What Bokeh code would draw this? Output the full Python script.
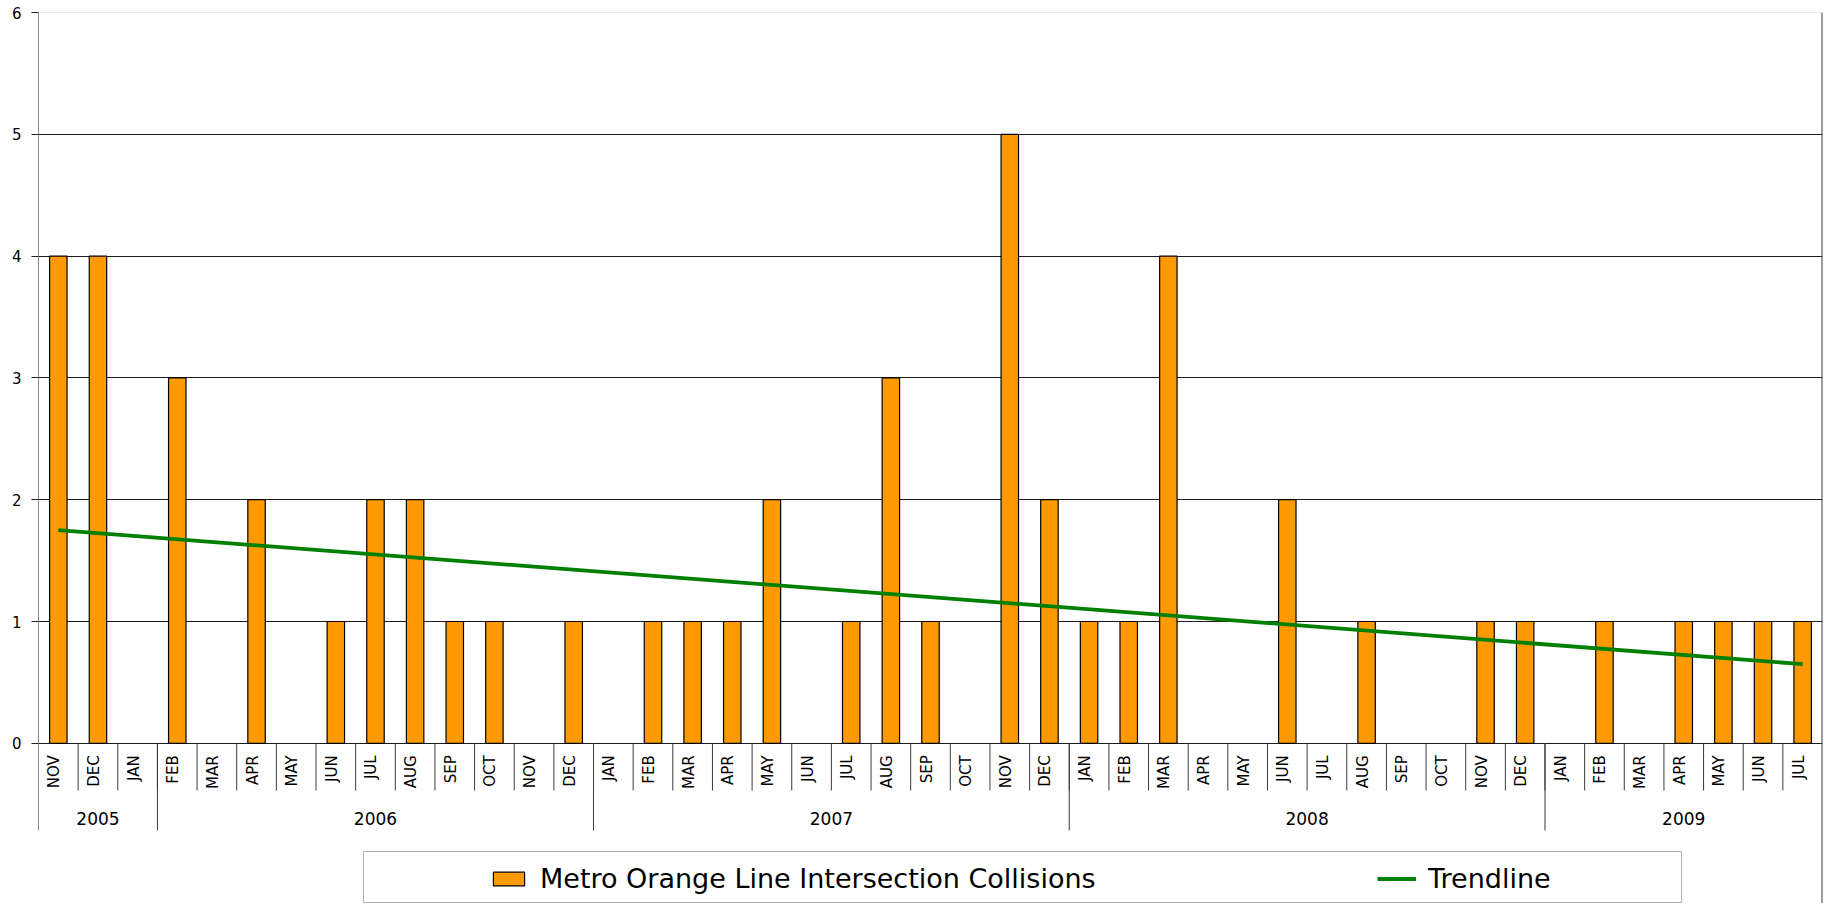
import math
from bokeh.plotting import figure
from bokeh.models import (ColumnDataSource, FixedTicker, Span, Legend, LegendItem,
                          BoxAnnotation, Range1d)
from bokeh.core.properties import value
from bokeh.embed import file_html
from bokeh.resources import INLINE

# ---------------- data ----------------
months = ["NOV", "DEC", "JAN", "FEB", "MAR", "APR", "MAY", "JUN", "JUL", "AUG", "SEP", "OCT",
          "NOV", "DEC",
          "JAN", "FEB", "MAR", "APR", "MAY", "JUN", "JUL", "AUG", "SEP", "OCT", "NOV", "DEC",
          "JAN", "FEB", "MAR", "APR", "MAY", "JUN", "JUL", "AUG", "SEP", "OCT", "NOV", "DEC",
          "JAN", "FEB", "MAR", "APR", "MAY", "JUN", "JUL"]
years = ["2005", "2006", "2007", "2008", "2009"]
year_counts = [3, 11, 12, 12, 7]          # number of month categories under each year label
collisions = [4, 4, 0, 3, 0, 2, 0, 1, 2, 2, 1, 1, 0, 1,
              0, 1, 1, 1, 2, 0, 1, 3, 1, 0, 5, 2,
              1, 1, 4, 0, 0, 2, 0, 1, 0, 0, 1, 1,
              0, 1, 0, 1, 1, 1, 1]
trend_values = [1.75, 0.65]               # trendline at first and last month
y_ticks = [0, 1, 2, 3, 4, 5, 6]

SERIES_NAME = "Metro Orange Line Intersection Collisions"
TREND_NAME = "Trendline"

# ---------------- geometry (pixels) ----------------
FONT = "DejaVu Sans"
N = len(months)
FIG_W, FIG_H = 1823, 903
BORDER_L, BORDER_R, BORDER_T, BORDER_B = 38, 1, 12, 0
FRAME_H = FIG_H - BORDER_T - BORDER_B
UNIT_PX = 121.8                           # pixels per y unit
Y_TOP = 6
Y_BOTTOM = Y_TOP - FRAME_H / UNIT_PX
FRAME_W = FIG_W - BORDER_L - BORDER_R
CAT_PX = FRAME_W / N
ZERO_PX = BORDER_T + Y_TOP * UNIT_PX      # figure pixel row of the zero line


def py(px):
    """Figure pixel row -> y value."""
    return (ZERO_PX - px) / UNIT_PX


def px_x(px):
    """Figure pixel column -> x value."""
    return (px - BORDER_L) / CAT_PX


p = figure(width=FIG_W, height=FIG_H, output_backend="svg", toolbar_location=None,
           x_range=Range1d(0, N), y_range=Range1d(Y_BOTTOM, Y_TOP),
           x_axis_type=None, min_border_left=BORDER_L, min_border_right=BORDER_R,
           min_border_top=BORDER_T, min_border_bottom=BORDER_B)
p.outline_line_color = None
p.background_fill_color = "white"
p.border_fill_color = "white"
p.xgrid.visible = False

# y axis
yax = p.yaxis[0]
yax.ticker = FixedTicker(ticks=y_ticks)
yax.bounds = (py(830), Y_TOP)
yax.axis_line_color = "#8a8a8a"
yax.axis_line_width = 1
yax.major_tick_out = 7
yax.major_tick_in = 0
yax.major_tick_line_color = "#222222"
yax.minor_tick_line_color = None
yax.major_label_text_font = FONT
yax.major_label_text_font_size = "15px"
yax.major_label_text_color = "black"
yax.major_label_standoff = 10

p.ygrid.ticker = FixedTicker(ticks=y_ticks[:-1])
p.ygrid.grid_line_color = "#1a1a1a"
p.ygrid.grid_line_width = 1
p.add_layout(Span(location=Y_TOP, dimension="width", line_color="#d4d4d4", line_width=1))

# bars
xs = [i + 0.5 for i in range(N)]
nz = [i for i in range(N) if collisions[i] > 0]
bar_src = ColumnDataSource(dict(x=[xs[i] for i in nz], top=[collisions[i] for i in nz]))
bars = p.vbar(x="x", top="top", bottom=0, width=0.44, source=bar_src,
              fill_color="#FF9900", line_color="black", line_width=1.2)

# trendline
trend = p.line(x=[xs[0], xs[-1]], y=trend_values, line_color="#008000", line_width=3.8)

# category separators
sep_month_bottom = py(790)
sep_year_bottom = py(830)
p.segment(x0=list(range(1, N)), y0=[0] * (N - 1), x1=list(range(1, N)),
          y1=[sep_month_bottom] * (N - 1), line_color="#3a3a3a", line_width=1)
bounds = []
acc = 0
for c in year_counts:
    acc += c
    bounds.append(acc)
ybnd = bounds[:-1]
p.segment(x0=ybnd, y0=[0] * len(ybnd), x1=ybnd, y1=[sep_year_bottom] * len(ybnd),
          line_color="#3a3a3a", line_width=1)
p.add_layout(Span(location=N, dimension="height", line_color="#3a3a3a", line_width=2))

# month labels
p.text(x=xs, y=[0] * N, text=months, angle=math.pi / 2, text_align="right",
       text_baseline="middle", x_offset=-4, y_offset=12,
       text_font=value(FONT), text_font_size="15px", text_color="black")

# year labels
starts = [0] + bounds[:-1]
centers = [(s + e) / 2 for s, e in zip(starts, bounds)]
p.text(x=centers, y=[0] * len(years), text=years, text_align="center",
       text_baseline="middle", y_offset=75,
       text_font=value(FONT), text_font_size="17px", text_color="black")

# legend frame
p.add_layout(BoxAnnotation(left=px_x(363), right=px_x(1681),
                           top=py(851), bottom=py(902),
                           fill_alpha=0, line_color="black", line_width=1,
                           level="overlay"))

legend = Legend(items=[LegendItem(label=SERIES_NAME, renderers=[bars]),
                       LegendItem(label=TREND_NAME, renderers=[trend])],
                orientation="horizontal", location=(489 - BORDER_L, 9),
                padding=0, margin=0, spacing=0,
                glyph_width=39, glyph_height=17, label_standoff=12,
                label_width=837, label_height=20,
                label_text_font=FONT, label_text_font_size="27px",
                label_text_color="black",
                border_line_alpha=0, background_fill_alpha=0)
p.add_layout(legend, "center")

open("out.html", "w").write(file_html(p, INLINE))
